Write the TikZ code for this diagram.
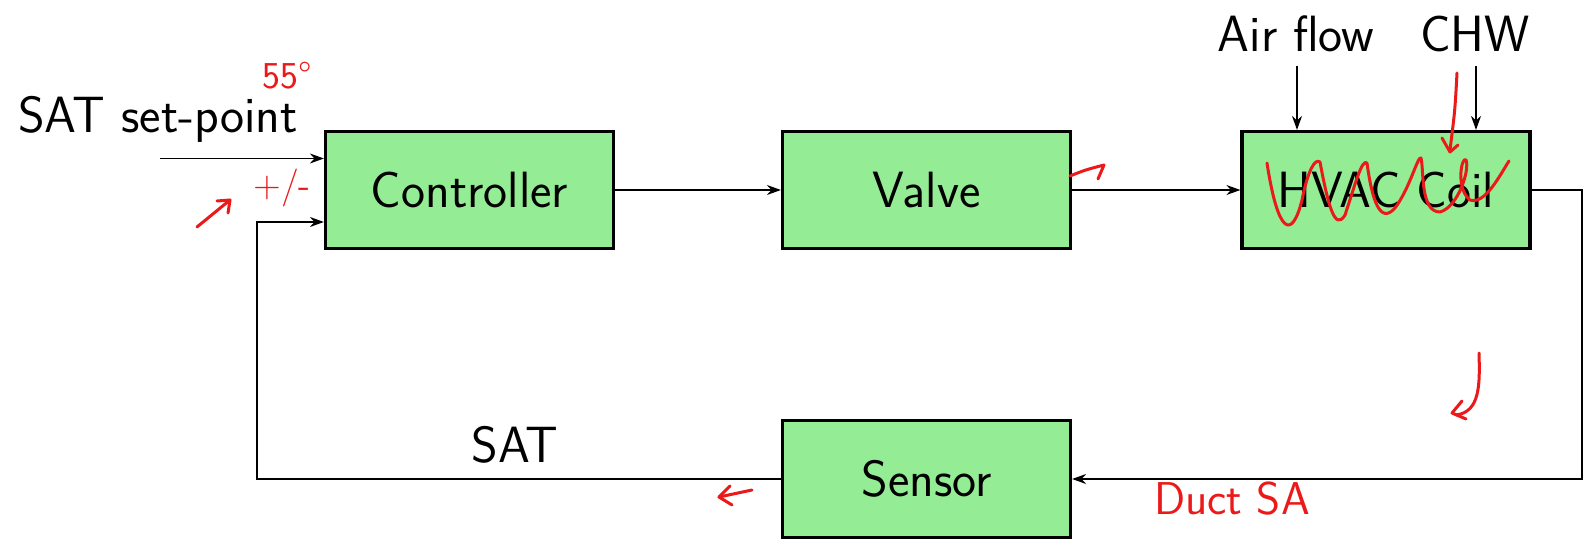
\documentclass[tikz,border=0pt]{standalone}
\usepackage{fontspec}
\usetikzlibrary{arrows.meta}
\definecolor{boxgreen}{RGB}{148,236,148}
\definecolor{inkred}{RGB}{235,25,25}
\begin{document}
\begin{tikzpicture}[x=1pt,y=-1pt,
  blk/.style={draw=black,line width=3.2pt,fill=boxgreen,minimum width=288pt,minimum height=117pt,inner sep=0pt,font=\sffamily\fontsize{51}{60}\selectfont},
  lbl/.style={font=\sffamily\fontsize{51}{60}\selectfont,inner sep=0pt},
  conn/.style={line width=1.7pt,-{Stealth[length=14pt,width=10pt]}},
  ink/.style={draw=inkred,line width=3pt,line cap=round,line join=round},
  inktext/.style={text=inkred,inner sep=0pt,font=\sffamily\fontsize{38}{42}\selectfont}
]
\useasboundingbox (0,0) rectangle (1583,540);
% blocks
\node[blk] (ctrl) at (469.5,190) {Controller};
\node[blk] (valve) at (926.5,190) {Valve};
\node[blk] (coil) at (1386,190) {HVAC Coil};
\node[blk] (sensor) at (926.5,479) {Sensor};
% labels
\node[lbl] (sp) at (158,119) {SAT set-point};
\node[lbl] (air) at (1296,34) {Air flow};
\node[lbl] (chw) at (1475,34) {CHW};
\node[lbl] (sat) at (515,445) {SAT};
% connectors
\coordinate (spin) at (160,158.5);
\draw[conn] (spin) -- (spin -| ctrl.west);
\draw[conn] (ctrl.east) -- (valve.west);
\draw[conn] (valve.east) -- (coil.west);
\coordinate (rt) at (1582,190);
\draw[conn] (coil.east) -- (rt) |- (sensor.east);
\coordinate (fb) at (257,222);
\draw[conn] (sensor.west) -| (fb) -- (fb -| ctrl.west);
\coordinate (airtop) at (1297,66);
\draw[conn] (airtop) -- (airtop |- coil.north);
\coordinate (chwtop) at (1476,66);
\draw[conn] (chwtop) -- (chwtop |- coil.north);
% handwritten annotations
\node[inktext] (n55) at (287,76) {55°};
\node[inktext] (npm) at (282,188) {+/-};
\node[inktext,font=\sffamily\fontsize{46}{50}\selectfont] (nduct) at (1232,499) {Duct SA};
\draw[ink] (197,227) -- (230,200);
\draw[ink] (217,201) -- (230,200) -- (228,213);
\draw[ink] (1070,176) .. controls (1085,170) .. (1104,165) -- (1098,179);
\draw[ink] (1267,163) .. controls (1278,235) and (1292,240) .. (1302,200)
  .. controls (1308,170) and (1315,158) .. (1320,162)
  .. controls (1328,205) and (1335,232) .. (1345,215)
  .. controls (1355,185) and (1362,158) .. (1367,163)
  .. controls (1372,200) and (1380,225) .. (1395,208)
  .. controls (1410,188) and (1418,155) .. (1421,158)
  .. controls (1424,170) and (1420,212) .. (1440,212)
  .. controls (1458,207) and (1470,170) .. (1466,160)
  .. controls (1462,155) and (1455,188) .. (1470,200)
  .. controls (1485,205) and (1500,175) .. (1509,161);
\draw[ink] (1457,73) .. controls (1455,110) .. (1450,150);
\draw[ink] (1442,138) -- (1450,152) -- (1458,145);
\draw[ink] (1479,353) .. controls (1480,385) and (1480,412) .. (1456,415);
\draw[ink] (1462,401) -- (1452,413) -- (1466,419);
\draw[ink] (752,490) -- (719,497);
\draw[ink] (730,486) -- (719,497) -- (732,505);
\end{tikzpicture}
\end{document}
